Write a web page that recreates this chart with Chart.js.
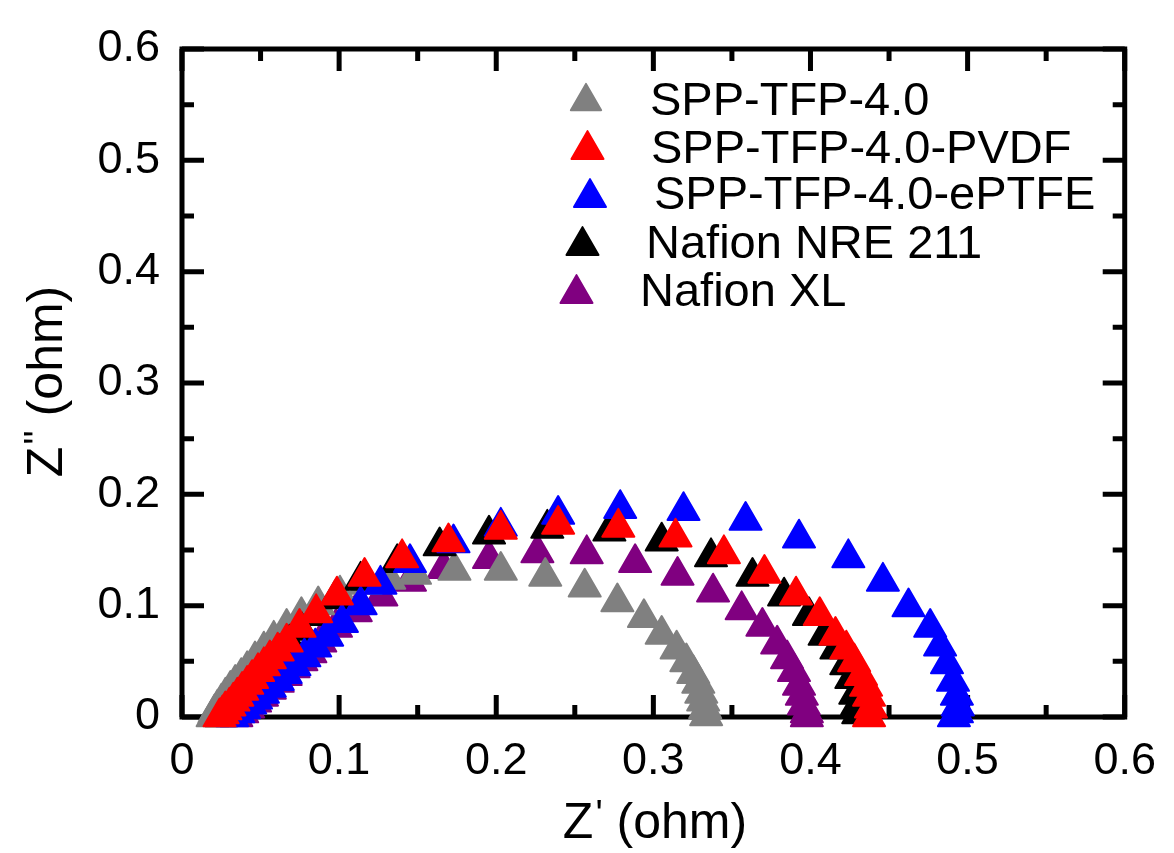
<!DOCTYPE html>
<html>
<head>
<meta charset="utf-8">
<title>Nyquist</title>
<script src="https://cdn.jsdelivr.net/npm/chart.js@4.4.1/dist/chart.umd.min.js"></script>
<style>
    html, body { margin: 0; padding: 0; background: #fff; }
    #wrap { width: 1174px; height: 853px; }
</style>
</head>
<body>
<div id="wrap"><canvas id="nyquistChart" width="1174" height="853"></canvas></div>
<script>
// ====== DATOS (Z' / Z'' en ohm) ======
const seriesLabels = ['SPP-TFP-4.0', 'SPP-TFP-4.0-PVDF', 'SPP-TFP-4.0-ePTFE', 'Nafion NRE 211', 'Nafion XL'];
const axisTicks = [0, 0.1, 0.2, 0.3, 0.4, 0.5, 0.6];

const grayX = [0.0195, 0.0207, 0.0226, 0.0251, 0.0276, 0.0308, 0.0339, 0.0377, 0.0415, 0.0465, 0.0521, 0.0584, 0.0666, 0.0760, 0.0867, 0.1005, 0.1169, 0.1319, 0.1483, 0.1734, 0.2029, 0.2312, 0.2563, 0.2771, 0.2940, 0.3053, 0.3148, 0.3210, 0.3254, 0.3286, 0.3305, 0.3317, 0.3330, 0.3336];
const grayY = [0.0000, 0.0035, 0.0079, 0.0132, 0.0185, 0.0247, 0.0300, 0.0362, 0.0424, 0.0512, 0.0600, 0.0697, 0.0803, 0.0909, 0.1006, 0.1103, 0.1191, 0.1235, 0.1279, 0.1315, 0.1315, 0.1262, 0.1165, 0.1032, 0.0891, 0.0741, 0.0609, 0.0494, 0.0388, 0.0300, 0.0212, 0.0141, 0.0071, 0.0009];

const pvdfX = [0.0239, 0.0258, 0.0276, 0.0302, 0.0327, 0.0352, 0.0383, 0.0415, 0.0446, 0.0484, 0.0521, 0.0559, 0.0609, 0.0666, 0.0748, 0.0854, 0.0986, 0.1162, 0.1401, 0.1696, 0.2029, 0.2394, 0.2777, 0.3141, 0.3449, 0.3707, 0.3908, 0.4059, 0.4159, 0.4228, 0.4278, 0.4322, 0.4354, 0.4373, 0.4385, 0.4373];
const pvdfY = [0.0000, 0.0026, 0.0062, 0.0097, 0.0141, 0.0185, 0.0238, 0.0291, 0.0344, 0.0406, 0.0459, 0.0521, 0.0591, 0.0671, 0.0803, 0.0935, 0.1094, 0.1262, 0.1429, 0.1571, 0.1685, 0.1729, 0.1703, 0.1615, 0.1465, 0.1288, 0.1094, 0.0909, 0.0732, 0.0609, 0.0494, 0.0371, 0.0274, 0.0185, 0.0079, 0.0000];

const eptfeX = [0.0320, 0.0358, 0.0395, 0.0434, 0.0471, 0.0515, 0.0559, 0.0610, 0.0660, 0.0716, 0.0779, 0.0848, 0.0924, 0.1018, 0.1137, 0.1263, 0.1451, 0.1728, 0.2029, 0.2394, 0.2789, 0.3192, 0.3587, 0.3927, 0.4241, 0.4461, 0.4624, 0.4762, 0.4825, 0.4869, 0.4907, 0.4932, 0.4938, 0.4932, 0.4913];
const eptfeY = [0.0000, 0.0035, 0.0071, 0.0115, 0.0159, 0.0212, 0.0265, 0.0326, 0.0388, 0.0459, 0.0538, 0.0627, 0.0724, 0.0847, 0.1006, 0.1191, 0.1385, 0.1562, 0.1712, 0.1818, 0.1871, 0.1853, 0.1765, 0.1606, 0.1429, 0.1218, 0.0988, 0.0803, 0.0635, 0.0476, 0.0318, 0.0194, 0.0097, 0.0035, 0.0000];

const nreX = [0.0251, 0.0270, 0.0289, 0.0314, 0.0339, 0.0364, 0.0396, 0.0427, 0.0459, 0.0496, 0.0534, 0.0572, 0.0622, 0.0685, 0.0760, 0.0854, 0.0974, 0.1137, 0.1370, 0.1640, 0.1954, 0.2325, 0.2720, 0.3053, 0.3367, 0.3631, 0.3832, 0.3990, 0.4090, 0.4165, 0.4228, 0.4260, 0.4285, 0.4297, 0.4304];
const nreY = [0.0000, 0.0009, 0.0044, 0.0079, 0.0124, 0.0168, 0.0221, 0.0274, 0.0326, 0.0388, 0.0441, 0.0503, 0.0574, 0.0662, 0.0776, 0.0909, 0.1059, 0.1227, 0.1385, 0.1535, 0.1641, 0.1694, 0.1668, 0.1579, 0.1438, 0.1262, 0.1085, 0.0909, 0.0732, 0.0609, 0.0468, 0.0344, 0.0203, 0.0106, 0.0026];

const xlX = [0.0346, 0.0383, 0.0421, 0.0465, 0.0509, 0.0559, 0.0609, 0.0660, 0.0710, 0.0760, 0.0817, 0.0880, 0.0980, 0.1106, 0.1269, 0.1451, 0.1665, 0.1954, 0.2262, 0.2576, 0.2884, 0.3154, 0.3380, 0.3562, 0.3694, 0.3788, 0.3851, 0.3895, 0.3927, 0.3945, 0.3958, 0.3977, 0.3977];
const xlY = [0.0000, 0.0035, 0.0079, 0.0132, 0.0185, 0.0247, 0.0309, 0.0371, 0.0441, 0.0503, 0.0574, 0.0671, 0.0803, 0.0944, 0.1085, 0.1218, 0.1332, 0.1421, 0.1474, 0.1465, 0.1385, 0.1271, 0.1121, 0.0962, 0.0812, 0.0653, 0.0521, 0.0406, 0.0282, 0.0194, 0.0106, 0.0035, 0.0000];

(function () {
    const FONT = '"Liberation Sans", Arial, Helvetica, sans-serif';
    const MARKER_R = 18.5;
    const toPoints = (xs, ys) => xs.map((v, i) => ({ x: v, y: ys[i] }));
    const fmt = v => (Math.abs(v) < 1e-9 ? '0' : v.toFixed(1));

    // orden: el de menor "order" queda encima (rojo arriba, morado abajo)
    const datasetsConfig = [
        { label: seriesLabels[0], xs: grayX, ys: grayY, color: '#808080', order: 3 },
        { label: seriesLabels[1], xs: pvdfX, ys: pvdfY, color: '#ff0000', order: 0 },
        { label: seriesLabels[2], xs: eptfeX, ys: eptfeY, color: '#0000ff', order: 1 },
        { label: seriesLabels[3], xs: nreX, ys: nreY, color: '#000000', order: 2 },
        { label: seriesLabels[4], xs: xlX, ys: xlY, color: '#800080', order: 4 }
    ];

    const datasets = datasetsConfig.map(cfg => ({
        label: cfg.label,
        data: toPoints(cfg.xs, cfg.ys),
        order: cfg.order,
        pointStyle: 'triangle',
        pointRadius: MARKER_R,
        pointHoverRadius: MARKER_R,
        borderWidth: 2,
        backgroundColor: cfg.color,
        borderColor: cfg.color,
        clip: false
    }));

    // ====== MARCO + TICKS HACIA DENTRO ======
    const framePlugin = {
        id: 'frame',
        beforeDatasetsDraw(chart) {
            const { ctx, chartArea: a, scales: { x, y } } = chart;
            ctx.save();
            ctx.strokeStyle = '#000';
            ctx.lineWidth = 5;
            for (let k = 0; k < axisTicks.length * 2 - 1; k++) {
                const val = k * 0.05;
                const len = k % 2 === 0 ? 22 : 12;
                const px = x.getPixelForValue(val);
                const py = y.getPixelForValue(val);
                ctx.beginPath();
                ctx.moveTo(px, a.bottom); ctx.lineTo(px, a.bottom - len);
                ctx.moveTo(px, a.top); ctx.lineTo(px, a.top + len);
                ctx.moveTo(a.left, py); ctx.lineTo(a.left + len, py);
                ctx.moveTo(a.right, py); ctx.lineTo(a.right - len, py);
                ctx.stroke();
            }
            ctx.lineJoin = 'miter';
            ctx.strokeRect(a.left, a.top, a.right - a.left, a.bottom - a.top);
            ctx.restore();
            // esquinas redondeadas en los triangulos
            ctx.lineJoin = 'round';
        },
        afterDraw(chart) {
            const ctx = chart.ctx;

            // ====== LEYENDA ======
            const legendPos = [
                [586, 97, 650, 102],
                [587.5, 145, 651, 150],
                [590, 193, 654, 196],
                [582.5, 241, 646, 245],
                [576.5, 289, 640, 293]
            ];
            ctx.save();
            ctx.lineJoin = 'round';
            datasetsConfig.forEach((cfg, i) => {
                const p = legendPos[i];
                ctx.fillStyle = cfg.color;
                ctx.strokeStyle = cfg.color;
                const r = i === 0 ? 17.5 : MARKER_R;
                Chart.helpers.drawPoint(ctx, { pointStyle: 'triangle', radius: r, borderWidth: 2, rotation: 0 }, p[0], p[1] + r / 4);
                ctx.fillStyle = '#000';
                ctx.font = '47px ' + FONT;
                ctx.textAlign = 'left';
                ctx.textBaseline = 'middle';
                ctx.fillText(cfg.label, p[2], p[3]);
            });
            ctx.restore();

            // ====== TITULOS DE EJES ======
            const drawTitle = (cx, cy, angle, primes) => {
                ctx.save();
                ctx.translate(cx, cy);
                ctx.rotate(angle);
                ctx.fillStyle = '#000';
                ctx.textBaseline = 'alphabetic';
                ctx.textAlign = 'left';
                const big = '50px ' + FONT;
                const small = '38px ' + FONT;
                ctx.font = big;
                const zW = ctx.measureText('Z').width;
                const restW = ctx.measureText(' (ohm)').width;
                ctx.font = small;
                const pW = ctx.measureText(primes).width;
                const total = zW + 2 + pW + restW;
                let xPos = -total / 2;
                ctx.font = big;
                ctx.fillText('Z', xPos, 0);
                xPos += zW + 2;
                ctx.font = small;
                ctx.fillText(primes, xPos, -11);
                xPos += pW;
                ctx.font = big;
                ctx.fillText(' (ohm)', xPos, 0);
                ctx.restore();
            };
            drawTitle(655, 838, 0, "'");
            drawTitle(62, 381.5, -Math.PI / 2, "''");
        }
    };

    const ctx = document.getElementById('nyquistChart').getContext('2d');

    new Chart(ctx, {
        type: 'scatter',
        data: { datasets: datasets },
        options: {
            responsive: false,
            devicePixelRatio: 1,
            animation: false,
            events: [],
            layout: { padding: { top: 37, right: 38, left: 0, bottom: 0 } },
            scales: {
                x: {
                    type: 'linear',
                    min: 0,
                    max: 0.6,
                    afterFit: s => { s.height = 136; },
                    afterBuildTicks: s => { s.ticks = axisTicks.map(v => ({ value: v })); },
                    grid: { display: false, drawTicks: false },
                    border: { display: false },
                    ticks: {
                        padding: 18,
                        maxRotation: 0,
                        autoSkip: false,
                        color: '#000',
                        font: { family: FONT, size: 45 },
                        callback: v => fmt(v)
                    }
                },
                y: {
                    type: 'linear',
                    min: 0,
                    max: 0.6,
                    afterFit: s => { s.width = 182; },
                    afterBuildTicks: s => { s.ticks = axisTicks.map(v => ({ value: v })); },
                    grid: { display: false, drawTicks: false },
                    border: { display: false },
                    ticks: {
                        padding: 22,
                        autoSkip: false,
                        color: '#000',
                        font: { family: FONT, size: 45 },
                        callback: v => fmt(v)
                    }
                }
            },
            plugins: {
                legend: { display: false },
                tooltip: { enabled: false },
                title: { display: false }
            }
        },
        plugins: [framePlugin]
    });
})();
</script>
</body>
</html>
